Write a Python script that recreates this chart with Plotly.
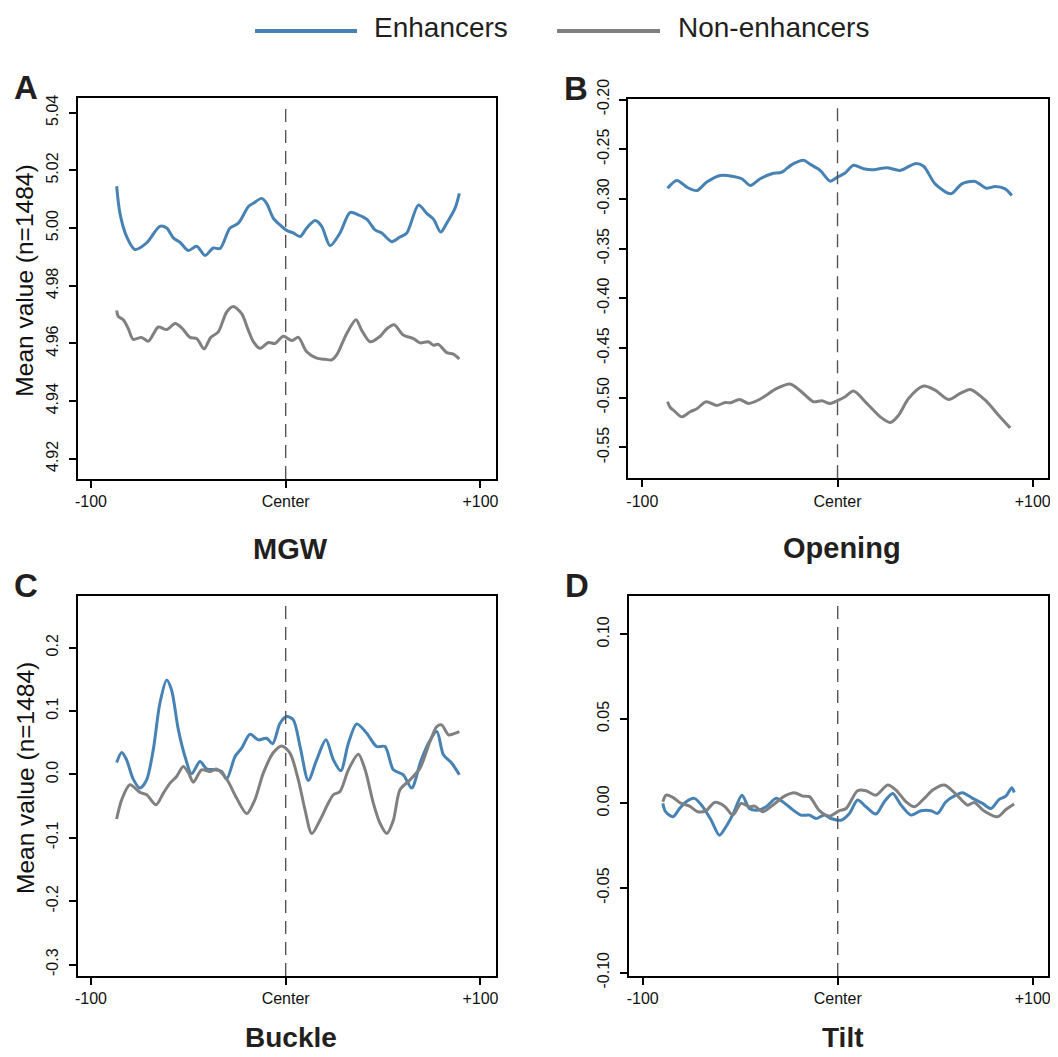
import plotly.graph_objects as go

BLUE = "#4682B4"
GRAY = "#808080"
FONT = "Arial, Liberation Sans, sans-serif"

# ---------------- data ----------------
# Panel A: MGW
mgw_enh_x = [-86.8, -85.1, -81.7, -77.4, -71.4, -64.6, -61.1, -57.7, -54.3, -50.0, -45.7, -41.4, -37.2, -33.7,
             -28.6, -24.3, -19.2, -16.6, -12.3, -9.8, -6.3, -2.9, 0.5, 3.9, 7.4, 10.8, 15.1, 18.5, 22.8, 27.9,
             33.0, 37.3, 41.6, 45.9, 49.3, 54.5, 58.7, 62.2, 68.2, 72.4, 75.9, 79.6, 82.7, 87.0, 89.2]
mgw_enh_y = [5.0145, 5.0051, 4.9971, 4.9926, 4.9949, 5.0006, 5.0000, 4.9966, 4.9951, 4.9922, 4.9937, 4.9905,
             4.9931, 4.9929, 5.0000, 5.0017, 5.0074, 5.0086, 5.0103, 5.0086, 5.0034, 5.0011, 4.9992, 4.9983,
             4.9971, 5.0000, 5.0026, 5.0006, 4.9939, 4.9983, 5.0054, 5.0046, 5.0031, 4.9994, 4.9983, 4.9953,
             4.9969, 4.9983, 5.0080, 5.0051, 5.0031, 4.9986, 5.0017, 5.0069, 5.0120]
mgw_non_x = [-86.8, -86.0, -83.4, -80.8, -78.3, -74.0, -70.5, -65.4, -61.1, -56.8, -53.4, -49.1, -45.7, -41.9,
             -38.5, -34.6, -30.3, -26.9, -22.6, -19.2, -16.6, -13.2, -8.9, -5.5, -1.2, 3.1, 6.5, 10.8, 15.9,
             20.2, 23.6, 26.2, 31.3, 36.1, 39.0, 43.3, 48.5, 51.9, 55.7, 60.4, 65.6, 69.0, 73.3, 75.9, 78.4,
             82.7, 86.1, 89.2]
mgw_non_y = [4.9714, 4.9694, 4.9682, 4.9651, 4.9614, 4.9621, 4.9608, 4.9657, 4.9648, 4.9669, 4.9654, 4.9621,
             4.9617, 4.9581, 4.9621, 4.9640, 4.9709, 4.9728, 4.9703, 4.9646, 4.9606, 4.9583, 4.9603, 4.9600,
             4.9625, 4.9610, 4.9621, 4.9571, 4.9549, 4.9545, 4.9543, 4.9560, 4.9634, 4.9682, 4.9646, 4.9606,
             4.9625, 4.9651, 4.9665, 4.9629, 4.9617, 4.9602, 4.9606, 4.9594, 4.9597, 4.9568, 4.9563, 4.9546]

# Panel B: Opening
opening_enh_x = [-87.1, -82.3, -77.2, -72.1, -67.0, -60.1, -53.3, -49.0, -44.7, -39.6, -33.6, -28.5, -23.4,
                 -17.4, -14.0, -8.9, -3.8, 0.0, 3.9, 8.2, 13.3, 18.4, 25.3, 32.1, 39.8, 44.1, 50.0, 58.1, 63.7,
                 70.5, 76.2, 80.8, 85.9, 89.3]
opening_enh_y = [-0.2892, -0.2814, -0.2882, -0.2916, -0.2831, -0.2764, -0.2774, -0.2797, -0.2865, -0.2797,
                 -0.2747, -0.2730, -0.2655, -0.2611, -0.2652, -0.2713, -0.2821, -0.2780, -0.2740, -0.2662,
                 -0.2696, -0.2706, -0.2686, -0.2713, -0.2645, -0.2672, -0.2848, -0.2949, -0.2848, -0.2824,
                 -0.2892, -0.2875, -0.2899, -0.2966]
opening_non_x = [-87.1, -85.7, -83.7, -79.8, -75.5, -72.1, -67.3, -61.8, -57.6, -55.0, -50.2, -45.6, -39.6,
                 -31.1, -24.3, -19.1, -12.3, -8.0, -3.8, 0.5, 3.9, 8.2, 15.0, 21.9, 27.0, 31.3, 36.4, 44.1,
                 50.0, 56.9, 62.9, 68.0, 75.7, 82.5, 88.5]
opening_non_y = [-0.5040, -0.5098, -0.5131, -0.5192, -0.5141, -0.5111, -0.5040, -0.5077, -0.5047, -0.5051,
                 -0.5017, -0.5057, -0.5013, -0.4906, -0.4862, -0.4929, -0.5040, -0.5030, -0.5057, -0.5024,
                 -0.4990, -0.4933, -0.5057, -0.5192, -0.5249, -0.5175, -0.5007, -0.4882, -0.4923, -0.5017,
                 -0.4956, -0.4916, -0.5024, -0.5175, -0.5303]

# Panel C: Buckle
buckle_enh_x = [-86.8, -84.2, -81.7, -78.3, -74.8, -71.4, -68.0, -64.6, -61.1, -58.6, -55.1, -51.7, -48.3,
                -44.0, -40.6, -36.3, -32.9, -30.3, -26.0, -22.6, -18.3, -14.0, -9.8, -6.7, -2.9, 0.5, 3.9,
                7.4, 11.6, 15.9, 20.7, 24.5, 28.3, 32.2, 36.5, 41.6, 46.7, 51.0, 55.3, 60.4, 64.7, 69.3,
                73.3, 77.6, 81.0, 85.3, 89.2]
buckle_enh_y = [0.0189, 0.0346, 0.0231, -0.0073, -0.0215, -0.0084, 0.0388, 0.1123, 0.1491, 0.1333, 0.0703,
                0.0283, 0.0010, 0.0205, 0.0089, 0.0073, 0.0047, -0.0073, 0.0283, 0.0415, 0.0635, 0.0546,
                0.0572, 0.0483, 0.0808, 0.0913, 0.0861, 0.0441, -0.0094, 0.0231, 0.0546, 0.0231, 0.0058,
                0.0493, 0.0798, 0.0651, 0.0441, 0.0441, 0.0073, -0.0005, -0.0215, 0.0205, 0.0493, 0.0677,
                0.0310, 0.0178, -0.0005]
buckle_non_x = [-86.8, -84.2, -80.0, -74.8, -71.4, -66.6, -62.8, -59.4, -56.0, -52.6, -50.0, -47.4, -43.2,
                -38.9, -35.4, -30.3, -25.2, -20.0, -15.8, -11.5, -6.3, -2.1, 2.2, 6.5, 9.9, 13.4, 17.6,
                21.9, 24.5, 27.9, 32.2, 37.3, 40.8, 45.0, 48.5, 51.9, 55.3, 58.7, 63.9, 69.0, 74.1, 77.6,
                80.1, 83.6, 86.1, 89.2]
buckle_non_y = [-0.0703, -0.0399, -0.0163, -0.0283, -0.0320, -0.0478, -0.0294, -0.0136, -0.0031, 0.0126,
                0.0031, -0.0121, 0.0073, 0.0047, 0.0084, -0.0073, -0.0373, -0.0619, -0.0399, 0.0021, 0.0346,
                0.0451, 0.0336, -0.0084, -0.0556, -0.0932, -0.0721, -0.0451, -0.0320, -0.0268, 0.0073,
                0.0320, 0.0073, -0.0451, -0.0774, -0.0932, -0.0721, -0.0241, -0.0084, 0.0100, 0.0520,
                0.0756, 0.0782, 0.0625, 0.0640, 0.0677]

# Panel D: Tilt
tilt_enh_x = [-89.7, -88.3, -84.5, -81.1, -77.7, -73.5, -69.2, -64.9, -60.7, -57.3, -53.5, -49.1, -45.3,
              -41.0, -36.7, -31.6, -28.2, -23.9, -18.8, -14.5, -11.1, -6.8, -3.4, 1.7, 6.0, 10.2, 14.5,
              19.6, 23.9, 28.2, 32.5, 37.6, 42.7, 47.8, 51.2, 55.5, 60.6, 64.0, 69.2, 74.3, 78.6, 82.8,
              86.2, 89.3, 90.5]
tilt_enh_y = [0.0000, -0.0049, -0.0079, -0.0030, 0.0010, 0.0030, -0.0020, -0.0099, -0.0188, -0.0138,
              -0.0059, 0.0049, -0.0030, -0.0040, -0.0020, 0.0030, 0.0010, -0.0030, -0.0069, -0.0069,
              -0.0089, -0.0069, -0.0089, -0.0099, -0.0059, 0.0020, -0.0020, -0.0063, 0.0010, 0.0059,
              -0.0010, -0.0069, -0.0043, -0.0043, -0.0059, 0.0010, 0.0049, 0.0063, 0.0030, 0.0000,
              -0.0030, 0.0024, 0.0043, 0.0093, 0.0065]
tilt_non_x = [-89.7, -88.0, -84.6, -80.3, -76.0, -71.8, -67.5, -63.2, -58.1, -53.8, -49.5, -45.3, -42.7,
              -38.4, -33.3, -27.3, -22.2, -17.9, -14.5, -9.4, -4.3, 0.9, 4.3, 10.2, 14.5, 19.6, 25.6,
              29.9, 35.0, 39.3, 44.4, 48.7, 54.7, 60.6, 66.6, 70.0, 75.1, 82.0, 86.3, 90.5]
tilt_non_y = [0.0010, 0.0049, 0.0036, 0.0000, -0.0016, -0.0049, -0.0043, 0.0006, -0.0016, -0.0069, 0.0000,
              -0.0020, -0.0016, -0.0049, -0.0010, 0.0043, 0.0063, 0.0043, 0.0040, -0.0043, -0.0075,
              -0.0043, -0.0030, 0.0075, 0.0075, 0.0049, 0.0109, 0.0079, 0.0010, -0.0020, 0.0030, 0.0079,
              0.0109, 0.0055, -0.0010, 0.0006, -0.0045, -0.0079, -0.0036, -0.0004]

x_tick_vals = [-100, 0, 100]
x_tick_text = ["-100", "Center", "+100"]

mgw_ticks = [4.92, 4.94, 4.96, 4.98, 5.00, 5.02, 5.04]
mgw_tick_text = ["4.92", "4.94", "4.96", "4.98", "5.00", "5.02", "5.04"]
opening_ticks = [-0.55, -0.50, -0.45, -0.40, -0.35, -0.30, -0.25, -0.20]
opening_tick_text = ["-0.55", "-0.50", "-0.45", "-0.40", "-0.35", "-0.30", "-0.25", "-0.20"]
buckle_ticks = [-0.3, -0.2, -0.1, 0.0, 0.1, 0.2]
buckle_tick_text = ["-0.3", "-0.2", "-0.1", "0.0", "0.1", "0.2"]
tilt_ticks = [-0.10, -0.05, 0.0, 0.05, 0.10]
tilt_tick_text = ["-0.10", "-0.05", "0.00", "0.05", "0.10"]

series_names = ["Enhancers", "Non-enhancers"]
y_label = "Mean value (n=1484)"

# ---------------- figure ----------------
# The page body has an 8px margin, so the figure is 8px smaller and every
# page position is shifted by 8px.
OFF = 8
W, H = 1058 - OFF, 1057 - OFF


def px(x):
    return (x - OFF) / W


def py(y):
    return 1 - (y - OFF) / H


panels = [
    dict(letter="A", title="MGW", enh=(mgw_enh_x, mgw_enh_y), non=(mgw_non_x, mgw_non_y),
         ticks=mgw_ticks, ticktext=mgw_tick_text, yrange=[4.913, 5.045], xrange=[-106.8, 108.0],
         box=(77.7, 496.0, 98.3, 479.0), ylabel=True, bottom=False),
    dict(letter="B", title="Opening", enh=(opening_enh_x, opening_enh_y), non=(opening_non_x, opening_non_y),
         ticks=opening_ticks, ticktext=opening_tick_text, yrange=[-0.581, -0.1995], xrange=[-107.2, 108.0],
         box=(628.3, 1048.3, 99.0, 478.3), ylabel=False, bottom=False),
    dict(letter="C", title="Buckle", enh=(buckle_enh_x, buckle_enh_y), non=(buckle_non_x, buckle_non_y),
         ticks=buckle_ticks, ticktext=buckle_tick_text, yrange=[-0.318, 0.2816], xrange=[-106.8, 108.0],
         box=(77.7, 496.0, 596.0, 976.0), ylabel=True, bottom=True),
    dict(letter="D", title="Tilt", enh=(tilt_enh_x, tilt_enh_y), non=(tilt_non_x, tilt_non_y),
         ticks=tilt_ticks, ticktext=tilt_tick_text, yrange=[-0.102, 0.1226], xrange=[-107.2, 108.0],
         box=(628.7, 1048.3, 596.0, 976.0), ylabel=False, bottom=True),
]

fig = go.Figure()
layout = dict(
    width=W, height=H, margin=dict(l=0, r=0, t=0, b=0, autoexpand=False),
    paper_bgcolor="white", plot_bgcolor="white", showlegend=False,
    font=dict(family=FONT, color="#111111"),
)
shapes = []
annotations = []

for i, p in enumerate(panels, start=1):
    xa = "x" if i == 1 else f"x{i}"
    ya = "y" if i == 1 else f"y{i}"
    xkey = "xaxis" if i == 1 else f"xaxis{i}"
    ykey = "yaxis" if i == 1 else f"yaxis{i}"
    l, r, t, b = p["box"]
    layout[xkey] = dict(
        domain=[px(l), px(r)], range=p["xrange"], anchor=ya, automargin=False,
        tickmode="array", tickvals=x_tick_vals, ticktext=x_tick_text,
        ticks="outside", ticklen=7, tickwidth=1.5, tickcolor="black",
        showline=True, linecolor="black", linewidth=2, mirror=True,
        showgrid=False, zeroline=False, tickfont=dict(size=16, family=FONT, color="#111111"),
    )
    layout[ykey] = dict(
        domain=[py(b), py(t)], range=p["yrange"], anchor=xa, automargin=False,
        tickmode="array", tickvals=p["ticks"], ticktext=p["ticktext"], tickangle=-90,
        ticks="outside", ticklen=7, tickwidth=1.5, tickcolor="black",
        showline=True, linecolor="black", linewidth=2, mirror=True,
        showgrid=False, zeroline=False, tickfont=dict(size=16, family=FONT, color="#111111"),
        ticklabelstandoff=4,
    )
    for (sx, sy), color, name in [(p["enh"], BLUE, series_names[0]), (p["non"], GRAY, series_names[1])]:
        fig.add_trace(go.Scatter(
            x=sx, y=sy, mode="lines", name=name, xaxis=xa, yaxis=ya,
            line=dict(color=color, width=3, shape="spline", smoothing=0.8),
            showlegend=False,
        ))
    # dashed centre line
    shapes.append(dict(type="line", xref=xa, yref=f"{ya} domain", x0=0, x1=0, y0=0, y1=0.985,
                       line=dict(color="#555555", width=1.4, dash="13px,8px")))
    # panel letter
    annotations.append(dict(text=f"<b>{p['letter']}</b>", xref="paper", yref="paper",
                            x=px(l - 52), y=py(t - 11), xanchor="center", yanchor="middle",
                            showarrow=False, font=dict(size=33, family=FONT, color="#231f20")))
    # panel title
    if p["bottom"]:
        annotations.append(dict(text=f"<b>{p['title']}</b>", xref="paper", yref="paper",
                                x=px((l + r) / 2 + 4), y=py(1055), xanchor="center", yanchor="bottom",
                                showarrow=False, font=dict(size=28, family=FONT, color="#231f20")))
    else:
        annotations.append(dict(text=f"<b>{p['title']}</b>", xref="paper", yref="paper",
                                x=px((l + r) / 2 + 4), y=py(b + 70), xanchor="center", yanchor="middle",
                                showarrow=False, font=dict(size=29, family=FONT, color="#231f20")))
    if p["ylabel"]:
        annotations.append(dict(text=y_label, xref="paper", yref="paper", textangle=-90,
                                x=px(25), y=py((t + b) / 2 - 8), xanchor="center", yanchor="middle",
                                showarrow=False, font=dict(size=24.5, family=FONT, color="#111111")))

# legend drawn at the top
legend_items = [(series_names[0], BLUE, 255, 357, 372), (series_names[1], GRAY, 557, 660, 676)]
for name, color, lx0, lx1, tx in legend_items:
    shapes.append(dict(type="line", xref="paper", yref="paper", x0=px(lx0), x1=px(lx1),
                       y0=py(31), y1=py(31), line=dict(color=color, width=4)))
    annotations.append(dict(text=name, xref="paper", yref="paper", x=px(tx), y=py(28),
                            xanchor="left", yanchor="middle", showarrow=False,
                            font=dict(size=28, family=FONT, color="#231f20")))

layout["shapes"] = shapes
layout["annotations"] = annotations
fig.update_layout(**layout)
fig.write_html("out.html")
